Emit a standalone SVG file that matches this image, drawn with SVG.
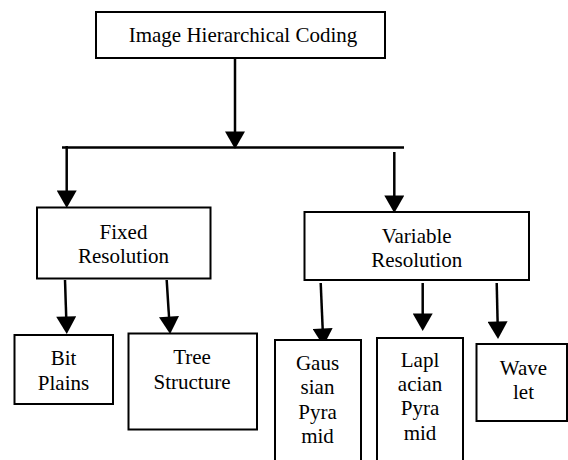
<svg xmlns="http://www.w3.org/2000/svg" width="568" height="460" viewBox="0 0 568 460">
<style>
.box{fill:#fff;stroke:#000;stroke-width:2}
.t{font-family:"Liberation Serif","Times New Roman",serif;font-size:21px;fill:#000;text-anchor:middle}
.c{stroke:#000;stroke-width:2.5;fill:none}
.a{marker-end:url(#ah)}
</style>
<defs>
<marker id="ah" markerUnits="userSpaceOnUse" markerWidth="20" markerHeight="20" refX="10" refY="8" orient="auto" viewBox="0 0 14 16">
<path d="M0,0 L14,8 L0,16 Z" fill="#000"/>
</marker>
</defs>
<rect width="568" height="460" fill="#fff"/>
<g id="connectors">
<line class="c a" x1="235" y1="58" x2="235" y2="144"/>
<line class="c" x1="62" y1="147.5" x2="404" y2="147.5"/>
<line class="c a" x1="66.7" y1="146" x2="66.7" y2="203"/>
<line class="c a" x1="394.3" y1="152" x2="394.3" y2="208"/>
<line class="c a" x1="65" y1="280" x2="66.6" y2="329"/>
<line class="c a" x1="166.7" y1="280" x2="169.8" y2="329"/>
<line class="c a" x1="320.7" y1="283" x2="323.2" y2="341"/>
<line class="c a" x1="422.7" y1="283" x2="422.7" y2="326"/>
<line class="c a" x1="496.7" y1="283" x2="497.9" y2="334"/>
</g>
<g id="root">
<rect class="box" x="96" y="12" width="289" height="46"/>
<text class="t" x="243" y="42">Image Hierarchical Coding</text>
</g>
<g id="fixed">
<rect class="box" x="37" y="207.5" width="173.5" height="71"/>
<text class="t" x="123.5" y="238.5">Fixed</text>
<text class="t" x="123.5" y="262.5">Resolution</text>
</g>
<g id="variable">
<rect class="box" x="304.5" y="212" width="224.5" height="68"/>
<text class="t" x="416.7" y="242.5">Variable</text>
<text class="t" x="416.7" y="266.5">Resolution</text>
</g>
<g id="bitplains">
<rect class="box" x="14.5" y="335" width="98.5" height="69"/>
<text class="t" x="63.5" y="365">Bit</text>
<text class="t" x="63.5" y="389.5">Plains</text>
</g>
<g id="tree">
<rect class="box" x="128.5" y="333.5" width="128.5" height="96"/>
<text class="t" x="192" y="363.5">Tree</text>
<text class="t" x="192" y="388.5">Structure</text>
</g>
<g id="gaussian">
<rect class="box" x="275" y="340" width="86" height="130"/>
<text class="t" x="317.5" y="370">Gaus</text>
<text class="t" x="317.5" y="394">sian</text>
<text class="t" x="317.5" y="418.5">Pyra</text>
<text class="t" x="317.5" y="442.5">mid</text>
</g>
<g id="laplacian">
<rect class="box" x="377" y="338" width="86" height="132"/>
<text class="t" x="420" y="366.5">Lapl</text>
<text class="t" x="420" y="391">acian</text>
<text class="t" x="420" y="415">Pyra</text>
<text class="t" x="420" y="440">mid</text>
</g>
<g id="wavelet">
<rect class="box" x="476.5" y="344" width="90.5" height="77"/>
<text class="t" x="523.5" y="374.5">Wave</text>
<text class="t" x="523.5" y="398.5">let</text>
</g>
</svg>
